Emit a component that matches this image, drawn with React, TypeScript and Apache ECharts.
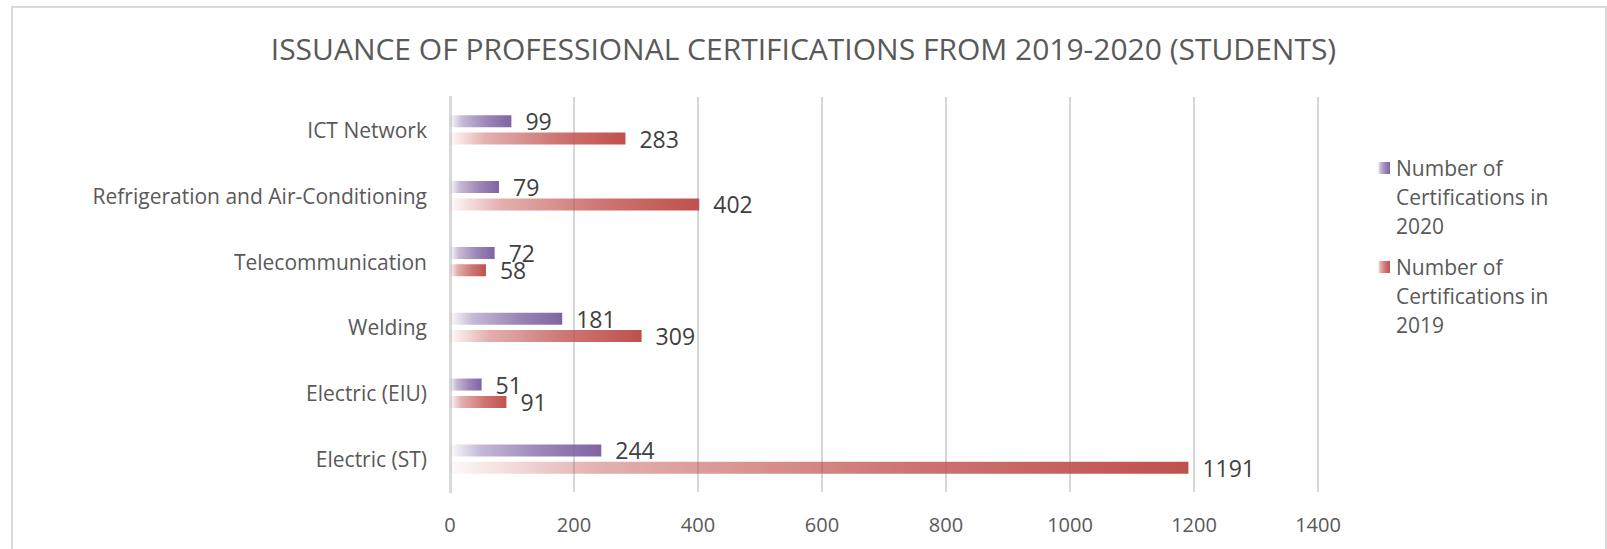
import React, { useEffect, useRef } from "react";
import * as echarts from "echarts";

const categories = [
  "Electric (ST)",
  "Electric (EIU)",
  "Welding",
  "Telecommunication",
  "Refrigeration and Air-Conditioning",
  "ICT Network",
];
const values2020 = [244, 51, 181, 72, 79, 99];
const values2019 = [1191, 91, 309, 58, 402, 283];
const name2020 = "Number of Certifications in 2020";
const name2019 = "Number of Certifications in 2019";
const legendLines2020 = "Number of\nCertifications in\n2020";
const legendLines2019 = "Number of\nCertifications in\n2019";
const titleText = "ISSUANCE OF PROFESSIONAL CERTIFICATIONS FROM 2019-2020 (STUDENTS)";

const FONT = "'Open Sans', 'Noto Sans', sans-serif";

function grad(r: number, g: number, b: number) {
  return new echarts.graphic.LinearGradient(0, 0, 1, 0, [
    { offset: 0, color: `rgba(${r},${g},${b},0.03)` },
    { offset: 0.2, color: `rgba(${r},${g},${b},0.45)` },
    { offset: 0.6, color: `rgba(${r},${g},${b},0.78)` },
    { offset: 1, color: `rgba(${r},${g},${b},1)` },
  ]);
}

export default function App() {
  const ref = useRef<HTMLDivElement>(null);
  useEffect(() => {
    if (!ref.current) return;
    const chart = echarts.init(ref.current, undefined, { renderer: "svg" });
    const red = [192, 80, 77];
    const purple = [128, 100, 162];
    const labelStyle = {
      show: true,
      position: "right" as const,
      distance: 14,
      fontSize: 23,
      color: "#404040",
      fontFamily: FONT,
    };
    chart.setOption({
      animation: false,
      backgroundColor: "#ffffff",
      title: {
        text: titleText,
        left: "center",
        top: 28,
        textStyle: {
          fontFamily: FONT,
          fontSize: 30,
          fontWeight: "normal",
          color: "#595959",
        },
      },
      legend: { show: false },
      grid: { left: 450, right: 289, top: 97, bottom: 57, containLabel: false },
      xAxis: {
        type: "value",
        min: 0,
        max: 1400,
        interval: 200,
        axisLine: { show: false },
        axisTick: { show: false },
        splitLine: { lineStyle: { color: "#C8C8C8", width: 1.5 } },
        axisLabel: {
          margin: 22,
          fontSize: 20,
          color: "#595959",
          fontFamily: FONT,
          formatter: (v: number) => String(v),
        },
      },
      yAxis: {
        type: "category",
        data: categories,
        axisLine: { show: true, lineStyle: { color: "#D9D9D9", width: 3 } },
        axisTick: { show: false },
        axisLabel: {
          margin: 23,
          fontSize: 21,
          color: "#595959",
          fontFamily: FONT,
        },
      },
      series: [
        {
          name: name2020,
          type: "bar",
          data: values2020,
          barWidth: 12,
          barGap: "45%",
          itemStyle: { color: grad(purple[0], purple[1], purple[2]) },
          label: labelStyle,
        },
        {
          name: name2019,
          type: "bar",
          data: values2019,
          barWidth: 12,
          barGap: "45%",
          itemStyle: { color: grad(red[0], red[1], red[2]) },
          label: labelStyle,
        },
      ],
      graphic: [
        {
          type: "rect",
          z: -10,
          silent: true,
          shape: { x: 12, y: 7, width: 1594, height: 620 },
          style: { fill: "none", stroke: "#D9D9D9", lineWidth: 2 },
        },
        {
          type: "rect",
          shape: { x: 1378, y: 162, width: 12, height: 12 },
          style: { fill: grad(purple[0], purple[1], purple[2]) },
        },
        {
          type: "text",
          x: 1396,
          y: 153,
          style: {
            text: legendLines2020,
            fontSize: 21,
            lineHeight: 29,
            fill: "#595959",
            fontFamily: FONT,
            verticalAlign: "top",
          },
        },
        {
          type: "rect",
          shape: { x: 1378, y: 261, width: 12, height: 12 },
          style: { fill: grad(red[0], red[1], red[2]) },
        },
        {
          type: "text",
          x: 1396,
          y: 252,
          style: {
            text: legendLines2019,
            fontSize: 21,
            lineHeight: 29,
            fill: "#595959",
            fontFamily: FONT,
            verticalAlign: "top",
          },
        },
      ],
    });
    return () => chart.dispose();
  }, []);
  return (
    <div
      ref={ref}
      style={{ position: "absolute", left: 0, top: 0, width: 1607, height: 549 }}
    />
  );
}
